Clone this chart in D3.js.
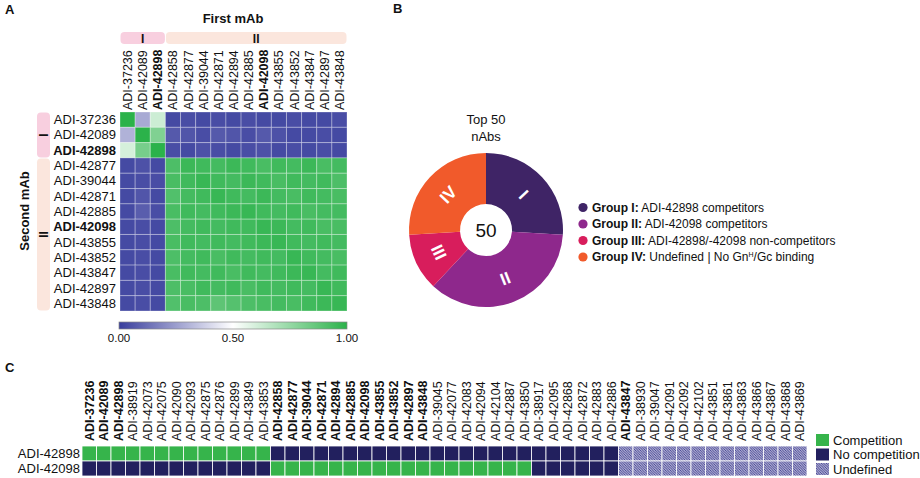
<!DOCTYPE html>
<html>
<head>
<meta charset="utf-8">
<script src="https://cdn.jsdelivr.net/npm/d3@7"></script>
<style>
  body { margin: 0; background: #fff; }
  text { font-family: "Liberation Sans", Arial, sans-serif; fill: #111; }
</style>
</head>
<body>
<div id="vis"></div>
<script>
'use strict';

// ---- panel A data ----
var firstMab = ["ADI-37236", "ADI-42089", "ADI-42898", "ADI-42858", "ADI-42877", "ADI-39044", "ADI-42871",
    "ADI-42894", "ADI-42885", "ADI-42098", "ADI-43855", "ADI-43852", "ADI-43847", "ADI-42897", "ADI-43848"];
var secondMab = ["ADI-37236", "ADI-42089", "ADI-42898", "ADI-42877", "ADI-39044", "ADI-42871", "ADI-42885",
    "ADI-42098", "ADI-43855", "ADI-43852", "ADI-43847", "ADI-42897", "ADI-43848"];
var boldMab = ["ADI-42898", "ADI-42098"];
var firstGroups = ["I", "I", "I", "II", "II", "II", "II", "II", "II", "II", "II", "II", "II", "II", "II"];
var secondGroups = ["I", "I", "I", "II", "II", "II", "II", "II", "II", "II", "II", "II", "II"];
// rows = second mAb, columns = first mAb
var competition = [
    [1.00, 0.28, 0.62, 0.03, 0.04, 0.03, 0.04, 0.03, 0.04, 0.03, 0.03, 0.04, 0.03, 0.03, 0.04],
    [0.30, 1.00, 0.80, 0.07, 0.06, 0.04, 0.07, 0.06, 0.04, 0.07, 0.05, 0.03, 0.03, 0.04, 0.03],
    [0.60, 0.82, 1.00, 0.04, 0.03, 0.05, 0.04, 0.03, 0.04, 0.05, 0.03, 0.04, 0.03, 0.04, 0.03],
    [0.03, 0.05, 0.03, 0.92, 0.96, 0.95, 0.94, 0.96, 0.95, 0.93, 0.95, 0.94, 0.96, 0.93, 0.94],
    [0.03, 0.04, 0.04, 0.93, 0.95, 0.97, 0.95, 0.94, 0.96, 0.95, 0.93, 0.95, 0.94, 0.95, 0.92],
    [0.03, 0.06, 0.03, 0.91, 0.94, 0.95, 0.97, 0.95, 0.94, 0.96, 0.94, 0.93, 0.95, 0.94, 0.93],
    [0.03, 0.08, 0.04, 0.93, 0.95, 0.94, 0.95, 0.96, 0.97, 0.95, 0.94, 0.95, 0.93, 0.94, 0.94],
    [0.03, 0.04, 0.03, 0.92, 0.94, 0.95, 0.94, 0.95, 0.95, 0.97, 0.96, 0.94, 0.95, 0.93, 0.93],
    [0.03, 0.04, 0.03, 0.93, 0.95, 0.94, 0.95, 0.94, 0.95, 0.96, 0.97, 0.95, 0.94, 0.95, 0.94],
    [0.03, 0.04, 0.03, 0.92, 0.94, 0.95, 0.93, 0.95, 0.94, 0.95, 0.94, 0.97, 0.95, 0.94, 0.93],
    [0.03, 0.04, 0.03, 0.93, 0.95, 0.94, 0.95, 0.93, 0.95, 0.94, 0.95, 0.96, 0.97, 0.94, 0.95],
    [0.03, 0.04, 0.03, 0.92, 0.93, 0.95, 0.94, 0.95, 0.93, 0.95, 0.94, 0.95, 0.94, 0.97, 0.95],
    [0.03, 0.04, 0.03, 0.91, 0.93, 0.92, 0.88, 0.90, 0.92, 0.93, 0.94, 0.93, 0.95, 0.96, 0.97]
];
var colorTicks = [0, 0.5, 1];

// ---- panel B data ----
var groupNames = ["I", "II", "III", "IV"];
var groupCounts = [13, 18, 6, 13];
var groupColors = ["#3f2466", "#8e288c", "#d81d5c", "#f15a2b"];
var groupBold = ["Group I:", "Group II:", "Group III:", "Group IV:"];
var groupDesc = [" ADI-42898 competitors", " ADI-42098 competitors", " ADI-42898/-42098 non-competitors", " Undefined | No Gn"];

// ---- panel C data ----
var compNabs = ["ADI-37236", "ADI-42089", "ADI-42898", "ADI-38919", "ADI-42073", "ADI-42075", "ADI-42090",
    "ADI-42093", "ADI-42875", "ADI-42876", "ADI-42899", "ADI-43849", "ADI-43853",
    "ADI-42858", "ADI-42877", "ADI-39044", "ADI-42871", "ADI-42894", "ADI-42885", "ADI-42098", "ADI-43855",
    "ADI-43852", "ADI-42897", "ADI-43848", "ADI-39045", "ADI-42077", "ADI-42083", "ADI-42094", "ADI-42104",
    "ADI-42887", "ADI-43850",
    "ADI-38917", "ADI-42095", "ADI-42868", "ADI-42872", "ADI-42883", "ADI-42886",
    "ADI-43847", "ADI-38930", "ADI-39047", "ADI-42091", "ADI-42092", "ADI-42102", "ADI-43851", "ADI-43861",
    "ADI-43863", "ADI-43866", "ADI-43867", "ADI-43868", "ADI-43869"];
var compRows = ["ADI-42898", "ADI-42098"];
// C = competition, N = no competition, U = undefined
var row42898 = "CCCCCCCCCCCCC" + "NNNNNNNNNNNNNNNNNN" + "NNNNNN" + "UUUUUUUUUUUUU";
var row42098 = "NNNNNNNNNNNNN" + "CCCCCCCCCCCCCCCCCC" + "NNNNNN" + "UUUUUUUUUUUUU";
var compStatus = [row42898.split(""), row42098.split("")];
var statusNames = ["Competition", "No competition", "Undefined"];

var svg = d3.select("#vis").append("svg")
    .attr("width", 920)
    .attr("height", 478);

var defs = svg.append("defs");

// ---------------- panel A ----------------
var x = d3.scaleBand().domain(firstMab).range([120, 347]);
var y = d3.scaleBand().domain(secondMab).range([112, 311]);
var color = d3.scaleLinear()
    .domain([0, 0.5, 1])
    .range(["#393e9d", "#ffffff", "#2bb24a"]);

svg.append("text").attr("x", 5).attr("y", 14)
    .style("font-size", "13px").style("font-weight", "bold").text("A");

svg.append("text").attr("x", 233).attr("y", 23)
    .attr("text-anchor", "middle")
    .style("font-size", "13px").style("font-weight", "bold")
    .text("First mAb");

// group bands for first mAb
var bandFill = { "I": "#f8cfdf", "II": "#fbe6dd" };
["I", "II"].forEach(function(g) {
    var cols = firstMab.filter(function(d, i) { return firstGroups[i] == g; });
    var x0 = x(cols[0]);
    var x1 = x(cols[cols.length - 1]) + x.bandwidth();
    svg.append("rect")
        .attr("x", x0 + 0.5).attr("y", 32)
        .attr("width", x1 - x0 - 1).attr("height", 12)
        .attr("rx", 4)
        .style("fill", bandFill[g]);
    svg.append("text")
        .attr("x", (x0 + x1) / 2).attr("y", 42.5)
        .attr("text-anchor", "middle")
        .style("font-size", "12px").style("font-weight", "bold")
        .text(g);
});

// group bands for second mAb
["I", "II"].forEach(function(g) {
    var rows = secondMab.filter(function(d, i) { return secondGroups[i] == g; });
    var y0 = y(rows[0]);
    var y1 = y(rows[rows.length - 1]) + y.bandwidth();
    svg.append("rect")
        .attr("x", 37).attr("y", y0 + 0.5)
        .attr("width", 13).attr("height", y1 - y0 - 1)
        .attr("rx", 4)
        .style("fill", bandFill[g]);
    svg.append("text")
        .attr("transform", "translate(47.5," + ((y0 + y1) / 2) + ") rotate(-90)")
        .attr("text-anchor", "middle")
        .style("font-size", "12px").style("font-weight", "bold")
        .text(g);
});

svg.append("text")
    .attr("transform", "translate(29,211) rotate(-90)")
    .attr("text-anchor", "middle")
    .style("font-size", "13px").style("font-weight", "bold")
    .text("Second mAb");

// column labels
svg.append("g").selectAll("text")
    .data(firstMab)
  .enter().append("text")
    .attr("transform", function(d) {
        return "translate(" + (x(d) + x.bandwidth() / 2 + 4.5) + ",110) rotate(-90)";
    })
    .style("font-size", "12.5px")
    .style("font-weight", function(d) { return boldMab.indexOf(d) >= 0 ? "bold" : "normal"; })
    .text(function(d) { return d; });

// row labels
svg.append("g").selectAll("text")
    .data(secondMab)
  .enter().append("text")
    .attr("x", 116)
    .attr("y", function(d) { return y(d) + y.bandwidth() / 2 + 4.5; })
    .attr("text-anchor", "end")
    .style("font-size", "13px")
    .style("font-weight", function(d) { return boldMab.indexOf(d) >= 0 ? "bold" : "normal"; })
    .text(function(d) { return d; });

// cells
var cells = [];
for (var r = 0; r < secondMab.length; r++) {
    for (var c = 0; c < firstMab.length; c++) {
        cells.push({ row: secondMab[r], col: firstMab[c], value: competition[r][c] });
    }
}
svg.append("g").selectAll("rect")
    .data(cells)
  .enter().append("rect")
    .attr("x", function(d) { return x(d.col); })
    .attr("y", function(d) { return y(d.row); })
    .attr("width", x.bandwidth())
    .attr("height", y.bandwidth())
    .style("fill", function(d) { return color(d.value); })
    .style("stroke", "rgba(255,255,255,0.3)")
    .style("stroke-width", 1);

// color bar
var grad = defs.append("linearGradient").attr("id", "cbar");
colorTicks.forEach(function(t) {
    grad.append("stop").attr("offset", (t * 100) + "%").attr("stop-color", color(t));
});
var cx = d3.scaleLinear().domain([0, 1]).range([119, 347]);
svg.append("rect")
    .attr("x", cx(0)).attr("y", 322)
    .attr("width", cx(1) - cx(0)).attr("height", 7)
    .style("fill", "url(#cbar)")
    .style("stroke", "#888").style("stroke-width", 0.7);
svg.append("g").selectAll("text")
    .data(colorTicks)
  .enter().append("text")
    .attr("x", function(d) { return cx(d); })
    .attr("y", 342)
    .attr("text-anchor", "middle")
    .style("font-size", "11.5px")
    .text(function(d) { return d3.format(".2f")(d); });

// ---------------- panel B ----------------
svg.append("text").attr("x", 393).attr("y", 13)
    .style("font-size", "13px").style("font-weight", "bold").text("B");

var pieCx = 486, pieCy = 230;
var pie = d3.pie().sort(null).value(function(d) { return d; });
var arc = d3.arc().innerRadius(26).outerRadius(77);
var labelArc = d3.arc().innerRadius(52).outerRadius(52);

var pg = svg.append("g").attr("transform", "translate(" + pieCx + "," + pieCy + ")");
var slices = pg.selectAll(".arc")
    .data(pie(groupCounts))
  .enter().append("g").attr("class", "arc");
slices.append("path")
    .attr("d", arc)
    .style("fill", function(d, i) { return groupColors[i]; });
slices.append("text")
    .attr("transform", function(d) {
        var c = labelArc.centroid(d);
        var ang = (d.startAngle + d.endAngle) / 2 * 180 / Math.PI;
        if (ang > 90 && ang < 270) ang -= 180;
        return "translate(" + c + ") rotate(" + ang + ")";
    })
    .attr("dy", "0.36em")
    .attr("text-anchor", "middle")
    .style("fill", "#fff")
    .style("font-size", "17px")
    .style("font-weight", "bold")
    .text(function(d, i) { return groupNames[i]; });

pg.append("text").attr("y", 7).attr("text-anchor", "middle")
    .style("font-size", "19px").text("50");
pg.append("text").attr("y", -106).attr("text-anchor", "middle")
    .style("font-size", "13px").text("Top 50");
pg.append("text").attr("y", -89).attr("text-anchor", "middle")
    .style("font-size", "13px").text("nAbs");

// legend
var lg = svg.append("g").selectAll("g")
    .data(groupNames)
  .enter().append("g")
    .attr("transform", function(d, i) { return "translate(583," + (207.5 + i * 16.5) + ")"; });
lg.append("circle")
    .attr("r", 4.6)
    .style("fill", function(d, i) { return groupColors[i]; });
var lt = lg.append("text")
    .attr("x", 9).attr("y", 4.3)
    .style("font-size", "12px");
lt.append("tspan").style("font-weight", "bold").text(function(d, i) { return groupBold[i]; });
lt.append("tspan").text(function(d, i) { return groupDesc[i]; });
lt.filter(function(d, i) { return i == 3; })
    .append("tspan").attr("dy", -4).style("font-size", "7px").text("H");
lt.filter(function(d, i) { return i == 3; })
    .append("tspan").attr("dy", 4).text("/Gc binding");

// ---------------- panel C ----------------
svg.append("text").attr("x", 5).attr("y", 372)
    .style("font-size", "13px").style("font-weight", "bold").text("C");

var hatch = defs.append("pattern")
    .attr("id", "hatch")
    .attr("patternUnits", "userSpaceOnUse")
    .attr("width", 2.5).attr("height", 2.5);
hatch.append("rect").attr("width", 2.5).attr("height", 2.5).style("fill", "#d8d8ea");
hatch.append("path")
    .attr("d", "M-1,-1L3.5,3.5M-1,1.5L1,3.5M1.5,-1L3.5,1")
    .style("stroke", "#34328a").style("stroke-width", 0.9);

var statusFill = { "C": "#36b44b", "N": "#22205e", "U": "url(#hatch)" };

var xc = d3.scaleBand().domain(compNabs).range([82, 807]);
var yc = d3.scaleBand().domain(compRows).range([446, 476]);

svg.append("g").selectAll("text")
    .data(compNabs)
  .enter().append("text")
    .attr("transform", function(d) {
        return "translate(" + (xc(d) + xc.bandwidth() / 2 + 4.5) + ",441) rotate(-90)";
    })
    .style("font-size", "12.5px")
    .style("font-weight", function(d) { return firstMab.indexOf(d) >= 0 ? "bold" : "normal"; })
    .text(function(d) { return d; });

svg.append("g").selectAll("text")
    .data(compRows)
  .enter().append("text")
    .attr("x", 80)
    .attr("y", function(d) { return yc(d) + yc.bandwidth() / 2 + 4.5; })
    .attr("text-anchor", "end")
    .style("font-size", "13px")
    .text(function(d) { return d; });

var ccells = [];
compRows.forEach(function(rw, r) {
    compNabs.forEach(function(nab, c) {
        ccells.push({ row: rw, col: nab, status: compStatus[r][c] });
    });
});
svg.append("g").selectAll("rect")
    .data(ccells)
  .enter().append("rect")
    .attr("x", function(d) { return xc(d.col); })
    .attr("y", function(d) { return yc(d.row); })
    .attr("width", xc.bandwidth())
    .attr("height", yc.bandwidth())
    .style("fill", function(d) { return statusFill[d.status]; })
    .style("stroke", "#fff")
    .style("stroke-width", 0.8);

var cl = svg.append("g").selectAll("g")
    .data(statusNames)
  .enter().append("g")
    .attr("transform", function(d, i) { return "translate(816," + (434 + i * 14.5) + ")"; });
cl.append("rect")
    .attr("width", 13).attr("height", 12)
    .style("fill", function(d, i) { return statusFill["CNU"[i]]; });
cl.append("text")
    .attr("x", 17).attr("y", 10.5)
    .style("font-size", "13px")
    .text(function(d) { return d; });
</script>
</body>
</html>
